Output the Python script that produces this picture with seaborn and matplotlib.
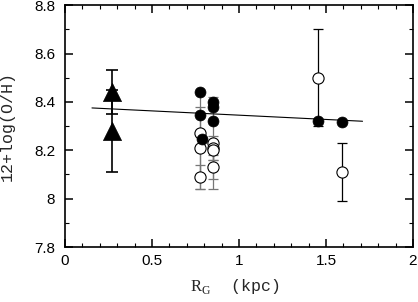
"""Oxygen abundance vs galactocentric radius"""

import numpy as np
import pandas as pd
import matplotlib

matplotlib.use("Agg")
import matplotlib.pyplot as plt
from matplotlib.ticker import MultipleLocator, FormatStrFormatter
import seaborn as sns

# triangles (with error bars)
tri_r = [0.27, 0.27]
tri_oh = [8.44, 8.28]
tri_err = [0.09, 0.17]

# filled circles
fill_r = [0.776, 0.776, 0.79, 0.851, 0.851, 0.851, 1.455, 1.59]
fill_oh = [8.44, 8.345, 8.245, 8.40, 8.38, 8.32, 8.32, 8.315]

# open circles
open_r = [0.776, 0.776, 0.776, 0.851, 0.851, 0.851, 0.851, 1.455, 1.59]
open_oh = [8.27, 8.21, 8.09, 8.23, 8.21, 8.20, 8.13, 8.50, 8.11]
open_err = [0.17, 0.17, 0.05, 0.19, 0.05, 0.04, 0.05, 0.20, 0.12]

# linear fit
fit_r = [0.155, 1.71]
fit_oh = [8.375, 8.32]

sns.set_style("ticks")
plt.rcParams["font.family"] = ["Liberation Sans", "DejaVu Sans"]
plt.rcParams["mathtext.fontset"] = "custom"
plt.rcParams["mathtext.rm"] = "Liberation Serif"

fig = plt.figure(figsize=(4.18, 3.02), dpi=100)
ax = fig.add_axes([0.1555, 0.182, 0.8325, 0.801])

# error bars
cluster = [r < 1.0 for r in open_r]
for r, oh, e, c in zip(open_r, open_oh, open_err, cluster):
    ax.errorbar(r, oh, yerr=e, fmt="none", ecolor="#777777" if c else "black",
                elinewidth=0.9, capsize=3.5, capthick=0.9, zorder=1)
ax.errorbar(tri_r, tri_oh, yerr=tri_err, fmt="none", ecolor="black",
            elinewidth=1.2, capsize=4.5, capthick=1.2, zorder=1)

# fit line
sns.lineplot(x=fit_r, y=fit_oh, color="black", lw=0.8, ax=ax, zorder=2)

sns.scatterplot(x=open_r, y=open_oh, marker="o", s=65, facecolor="white",
                edgecolor="black", linewidth=0.8, ax=ax, zorder=3)
sns.scatterplot(x=fill_r, y=fill_oh, marker="o", s=62, color="black",
                edgecolor="black", linewidth=0.5, ax=ax, zorder=4)
sns.scatterplot(x=tri_r, y=tri_oh, marker="^", s=170, color="black",
                edgecolor="black", linewidth=0.5, ax=ax, zorder=4)

ax.set_xlim(0, 2)
ax.set_ylim(7.8, 8.8)
ax.xaxis.set_major_locator(MultipleLocator(0.5))
ax.xaxis.set_minor_locator(MultipleLocator(0.1))
ax.yaxis.set_major_locator(MultipleLocator(0.2))
ax.yaxis.set_minor_locator(MultipleLocator(0.1))
ax.xaxis.set_major_formatter(FormatStrFormatter("%g"))
ax.yaxis.set_major_formatter(FormatStrFormatter("%g"))
ax.tick_params(which="both", direction="in", top=True, right=True,
               labelsize=11, colors="black")
ax.tick_params(axis="x", pad=5)
ax.tick_params(axis="y", pad=7)
ax.tick_params(which="major", length=6, width=1.1)
ax.tick_params(which="minor", length=3, width=0.8)
for s in ax.spines.values():
    s.set_linewidth(1.2)
    s.set_color("black")

ax.set_xlabel(r"$\mathrm{R}_\mathrm{G}$  (kpc)", family="Liberation Mono",
              fontsize=12)
ax.set_ylabel("12+log(O/H)", family="Liberation Mono", fontsize=12)
ax.xaxis.set_label_coords(0.486, -0.125)
ax.yaxis.set_label_coords(-0.145, 0.5)

fig.savefig("out.png", dpi=100)
plt.close()
